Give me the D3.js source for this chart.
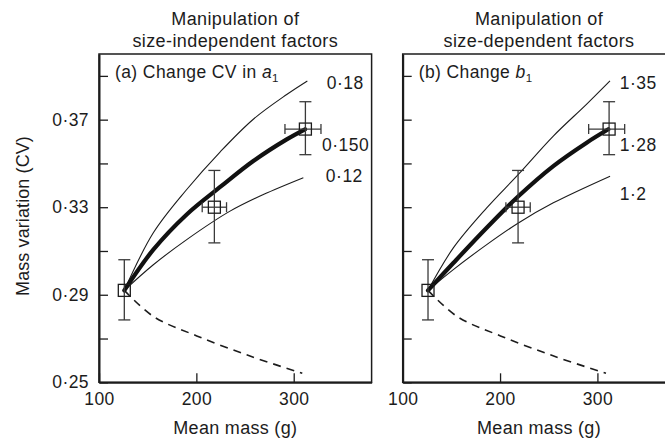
<!DOCTYPE html>
<html>
<head>
<meta charset="utf-8">
<script src="https://cdn.jsdelivr.net/npm/d3@7"></script>
<style>
  body { margin: 0; background: #fff; }
  svg { display: block; font-family: "Liberation Sans", Arial, sans-serif; }
</style>
</head>
<body>
<div id="chart"></div>
<script>
// observed means (3 ages) with error bars
const obsMass = [126, 218.5, 312];
const obsCV = [0.292, 0.330, 0.3657];
const cvLow = [0.2785, 0.3137, 0.3540];
const cvHigh = [0.306, 0.3468, 0.3782];
const massLow = [126, 206, 291];
const massHigh = [126, 231, 328];

const xTicks = [100, 200, 300];
const yTicks = [0.25, 0.27, 0.29, 0.31, 0.33, 0.35, 0.37, 0.39];
const yLabelTicks = [0.25, 0.29, 0.33, 0.37];

// panel (a): change CV in a1
const curveA_high = [[126, 0.292], [155.8, 0.3183], [190.1, 0.3381], [224.3, 0.3552], [258.5, 0.3702], [292.8, 0.3815], [314, 0.3877]];
const curveA_mid = [[126, 0.292], [155.8, 0.3106], [190.1, 0.3267], [225.5, 0.3396], [258.5, 0.3511], [292.8, 0.361], [311.6, 0.3656]];
const curveA_low = [[126, 0.292], [155.8, 0.3037], [190.1, 0.3152], [234.6, 0.3282], [268.8, 0.3358], [309.9, 0.3435]];
const labelsA = ["0·18", "0·150", "0·12"];

// panel (b): change b1
const curveB_high = [[126, 0.292], [152, 0.3114], [186.3, 0.3297], [218.8, 0.345], [254.7, 0.3625], [289, 0.3771], [312.9, 0.3877]];
const curveB_mid = [[126, 0.292], [152, 0.3045], [186.3, 0.3206], [218.8, 0.335], [254.7, 0.3488], [289, 0.3595], [311.2, 0.3656]];
const curveB_low = [[126, 0.292], [152, 0.3015], [186.3, 0.3129], [218.8, 0.3228], [254.7, 0.332], [313, 0.3442]];
const labelsB = ["1·35", "1·28", "1·2"];

// dashed reference curve (same in both panels)
const curveNull = [[126, 0.292], [155.8, 0.2801], [200.4, 0.2712], [255.1, 0.262], [308.8, 0.2541]];

const W = 665, H = 441;
const ink = "#1c1c1c";
const fmt = d => d3.format(".2f")(d).replace(".", "·");

let svg = d3.select("#chart").append("svg")
    .attr("width", W)
    .attr("height", H);

let y = d3.scaleLinear().domain([0.25, 0.40]).range([382.3, 54]);

function drawPanel(left, curves, labels, labelPos, title, panelTag, paramName, showY) {
    let x = d3.scaleLinear().domain([100, 380]).range([left, left + 272.6]);
    let g = svg.append("g");

    // frame
    g.append("rect")
        .attr("x", x(100)).attr("y", y(0.40))
        .attr("width", x(380) - x(100)).attr("height", y(0.25) - y(0.40))
        .attr("fill", "none").attr("stroke", ink).attr("stroke-width", 1.5);

    let xAxis = d3.axisBottom(x).tickValues(xTicks).tickSizeInner(-9).tickSizeOuter(0).tickPadding(10)
        .tickFormat(d3.format("d"));
    let gx = g.append("g").attr("transform", `translate(0,${y(0.25)})`).call(xAxis);
    gx.select(".domain").attr("stroke", ink).attr("stroke-width", 2);
    gx.selectAll(".tick line").attr("stroke", ink).attr("stroke-width", 1.3);
    gx.selectAll(".tick text").attr("font-size", 17.5).attr("fill", ink)
        .attr("font-family", "Liberation Sans, Arial, sans-serif").style("letter-spacing", "0.4px");

    let yAxis = d3.axisLeft(y).tickValues(yTicks).tickSizeInner(-9).tickSizeOuter(0).tickPadding(10)
        .tickFormat(d => (showY && yLabelTicks.some(v => Math.abs(v - d) < 1e-6)) ? fmt(d) : "");
    let gy = g.append("g").attr("transform", `translate(${x(100)},0)`).call(yAxis);
    gy.select(".domain").attr("stroke", ink).attr("stroke-width", 2);
    gy.selectAll(".tick line").attr("stroke", ink).attr("stroke-width", 1.3);
    gy.selectAll(".tick text").attr("font-size", 17.5).attr("fill", ink)
        .attr("font-family", "Liberation Sans, Arial, sans-serif").style("letter-spacing", "0.4px");

    let line = d3.line().x(d => x(d[0])).y(d => y(d[1])).curve(d3.curveCatmullRom.alpha(0.5));

    g.append("path").attr("d", line(curveNull))
        .attr("fill", "none").attr("stroke", ink).attr("stroke-width", 1.6)
        .attr("stroke-dasharray", "8,6");
    g.append("path").attr("d", line(curves[0]))
        .attr("fill", "none").attr("stroke", ink).attr("stroke-width", 1.1);
    g.append("path").attr("d", line(curves[2]))
        .attr("fill", "none").attr("stroke", ink).attr("stroke-width", 1.1);
    g.append("path").attr("d", line(curves[1]))
        .attr("fill", "none").attr("stroke", "#111").attr("stroke-width", 4.2)
        .attr("stroke-linecap", "round");

    // error bars
    let eb = g.append("g").attr("stroke", "#3a3a3a").attr("stroke-width", 1.3).attr("fill", "none");
    obsMass.forEach((m, i) => {
        let cx = x(m), cy = y(obsCV[i]);
        eb.append("line").attr("x1", cx).attr("x2", cx).attr("y1", y(cvLow[i])).attr("y2", y(cvHigh[i]));
        [cvLow[i], cvHigh[i]].forEach(v => {
            eb.append("line").attr("x1", cx - 6).attr("x2", cx + 6).attr("y1", y(v)).attr("y2", y(v));
        });
        if (massHigh[i] > massLow[i]) {
            eb.append("line").attr("x1", x(massLow[i])).attr("x2", x(massHigh[i])).attr("y1", cy).attr("y2", cy);
            [massLow[i], massHigh[i]].forEach(v => {
                eb.append("line").attr("x1", x(v)).attr("x2", x(v)).attr("y1", cy - 5).attr("y2", cy + 5);
            });
        }
        g.append("rect")
            .attr("x", cx - 6).attr("y", cy - 6).attr("width", 12).attr("height", 12)
            .attr("fill", "none").attr("stroke", ink).attr("stroke-width", 1.3);
    });

    // curve labels
    labels.forEach((t, i) => {
        g.append("text")
            .attr("x", x(labelPos[i][0])).attr("y", y(labelPos[i][1]))
            .attr("font-size", 17.5).attr("fill", ink).style("letter-spacing", "0.5px")
            .text(t);
    });

    // panel tag
    let tag = g.append("text")
        .attr("x", x(100) + 16).attr("y", 78)
        .attr("font-size", 17.5).attr("fill", ink).style("letter-spacing", "0.4px");
    tag.append("tspan").text(panelTag);
    tag.append("tspan").attr("font-style", "italic").text(paramName);
    tag.append("tspan").attr("font-size", 11.5).attr("dy", 4).text("1");

    // title
    let cx = (x(100) + x(380)) / 2;
    title.forEach((t, i) => {
        g.append("text")
            .attr("x", cx).attr("y", 25 + i * 22)
            .attr("text-anchor", "middle")
            .attr("font-size", 18).attr("fill", ink).style("letter-spacing", "0.4px")
            .text(t);
    });

    // x title
    g.append("text")
        .attr("x", cx).attr("y", 434)
        .attr("text-anchor", "middle")
        .attr("font-size", 18).attr("fill", ink).style("letter-spacing", "0.3px")
        .text("Mean mass (g)");
}

drawPanel(99, [curveA_high, curveA_mid, curveA_low], labelsA,
    [[334, 0.3840], [329, 0.3555], [333, 0.3413]],
    ["Manipulation of", "size-independent factors"], "(a) Change CV in ", "a", true);

drawPanel(402.7, [curveB_high, curveB_mid, curveB_low], labelsB,
    [[323, 0.3842], [323, 0.3557], [323, 0.3333]],
    ["Manipulation of", "size-dependent factors"], "(b) Change ", "b", false);

// y axis title
svg.append("text")
    .attr("transform", "translate(29,216) rotate(-90)")
    .attr("text-anchor", "middle")
    .attr("font-size", 18).attr("fill", ink).style("letter-spacing", "0.1px")
    .text("Mass variation (CV)");
</script>
</body>
</html>
